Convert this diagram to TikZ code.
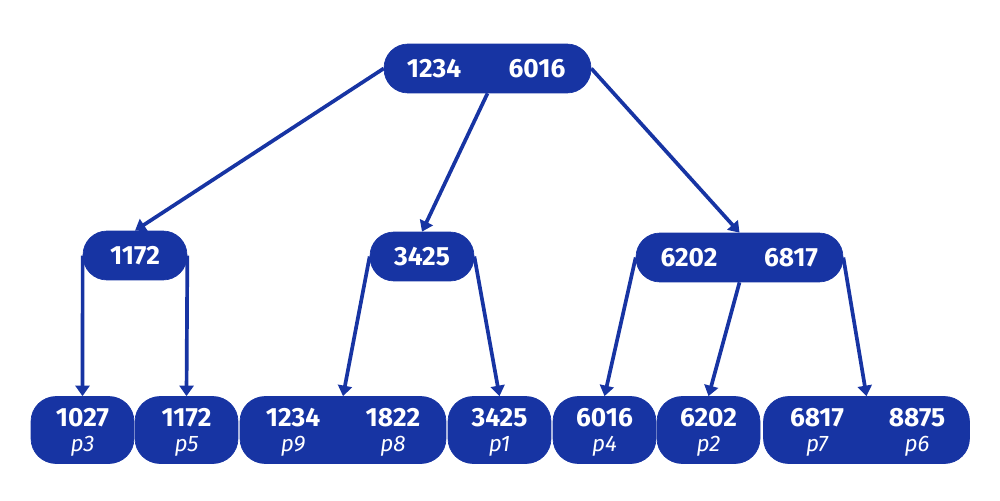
\documentclass[tikz,border=0pt]{standalone}
\usepackage{fontspec}
\setmainfont{Fira Sans}
\usetikzlibrary{arrows.meta}
\definecolor{nodeblue}{RGB}{23,52,163}
\begin{document}
\begin{tikzpicture}[x=0.02cm,y=-0.02cm,
  inner box/.style={fill=nodeblue,draw=nodeblue,rounded corners=0.48cm,inner sep=0pt,minimum height=0.98cm},
  leaf box/.style={fill=nodeblue,draw=nodeblue,rounded corners=0.5cm,inner sep=0pt,minimum height=1.34cm,minimum width=2.06cm},
  wide leaf/.style={leaf box,minimum width=4.12cm},
  keytxt/.style={text=white,font=\bfseries\fontsize{15}{17}\selectfont,inner sep=0pt},
  ptxt/.style={text=white,font=\itshape\fontsize{12.8}{14}\selectfont,inner sep=0pt},
  link/.style={draw=nodeblue,line width=2.1pt,-{Triangle[width=0.28cm,length=0.21cm]}}]
\useasboundingbox (0,0) rectangle (1000,500);
% root
\node[inner box,minimum width=4.14cm] (root) at (487.5,68.5) {};
\node[keytxt] (r1) at (434,69) {1234};
\node[keytxt] (r2) at (537,69) {6016};
% level 2
\node[inner box,minimum width=2.08cm] (a) at (135,255.5) {};
\node[keytxt] (a1) at (135,256) {1172};
\node[inner box,minimum width=2.08cm] (b) at (422,256.5) {};
\node[keytxt] (b1) at (422,257) {3425};
\node[inner box,minimum width=4.14cm] (c) at (739.5,257.5) {};
\node[keytxt] (c1) at (689,258) {6202};
\node[keytxt] (c2) at (791,258) {6817};
% leaves
\node[leaf box] (l1) at (82.5,430) {};
\node[keytxt] (l1k) at (82.5,418) {1027};
\node[ptxt] (l1p) at (82.5,446) {p3};
\node[leaf box] (l2) at (186.5,430) {};
\node[keytxt] (l2k) at (186.5,418) {1172};
\node[ptxt] (l2p) at (186.5,446) {p5};
\node[wide leaf] (l3) at (343,430) {};
\node[keytxt] (l3k) at (293,418) {1234};
\node[ptxt] (l3p) at (293,446) {p9};
\node[keytxt] (l3k2) at (393,418) {1822};
\node[ptxt] (l3p2) at (393,446) {p8};
\node[leaf box] (l4) at (499.5,430) {};
\node[keytxt] (l4k) at (499.5,418) {3425};
\node[ptxt] (l4p) at (499.5,446) {p1};
\node[leaf box] (l5) at (604.5,430) {};
\node[keytxt] (l5k) at (604.5,418) {6016};
\node[ptxt] (l5p) at (604.5,446) {p4};
\node[leaf box] (l6) at (708.5,430) {};
\node[keytxt] (l6k) at (708.5,418) {6202};
\node[ptxt] (l6p) at (708.5,446) {p2};
\node[wide leaf] (l7) at (866.5,430) {};
\node[keytxt] (l7k) at (817,418) {6817};
\node[ptxt] (l7p) at (817,446) {p7};
\node[keytxt] (l7k2) at (917,418) {8875};
\node[ptxt] (l7p2) at (917,446) {p6};
% connectors
\draw[link] (root.west) -- (a.north);
\draw[link] (root.south) -- (b.north);
\draw[link] (root.east) -- (c.north);
\draw[link] (a.west) -- (l1.north);
\draw[link] (a.east) -- (l2.north);
\draw[link] (b.west) -- (l3.north);
\draw[link] (b.east) -- (l4.north);
\draw[link] (c.west) -- (l5.north);
\draw[link] (c.south) -- (l6.north);
\draw[link] (c.east) -- (l7.north);
\end{tikzpicture}
\end{document}
